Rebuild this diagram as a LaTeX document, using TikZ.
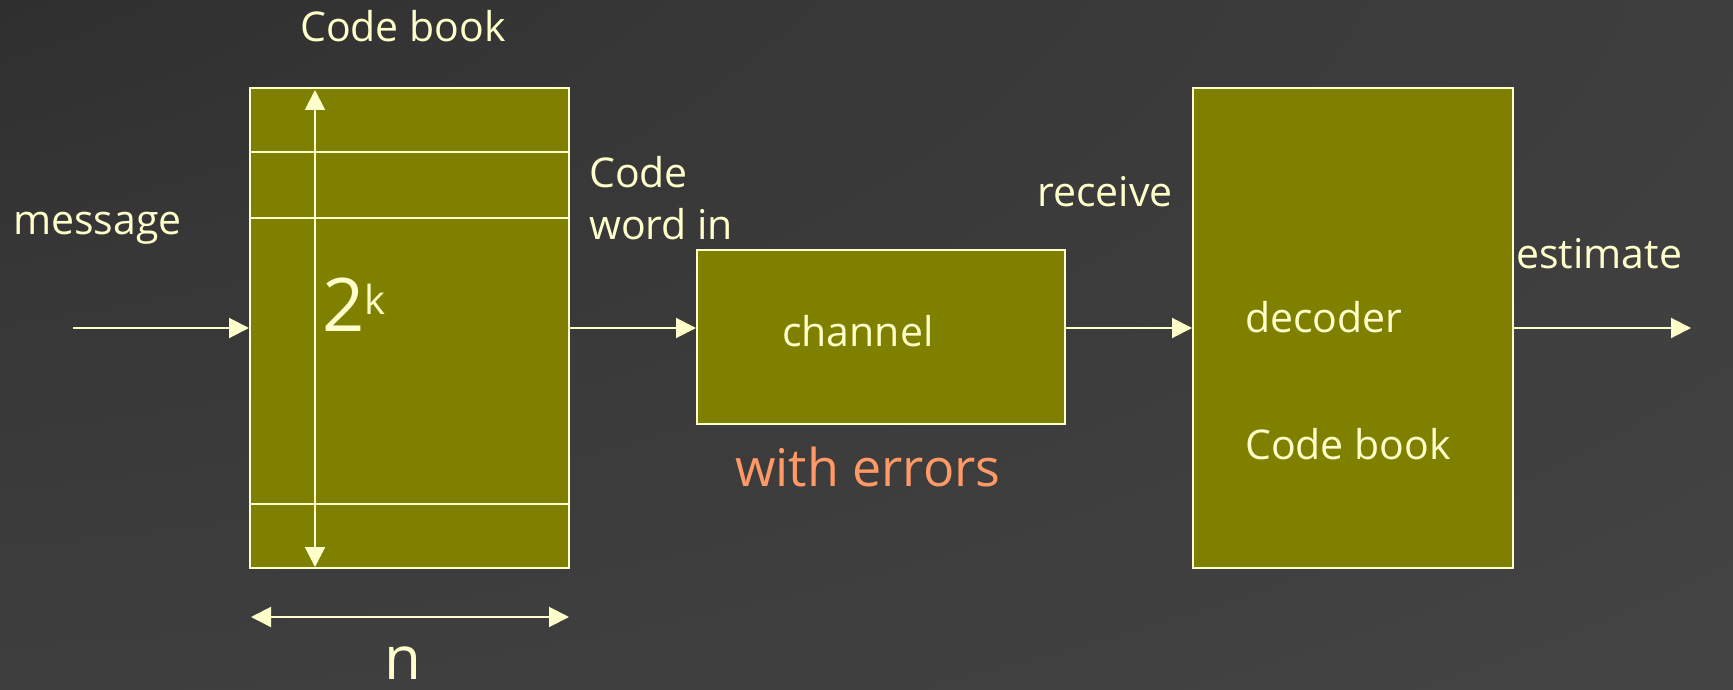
\documentclass[tikz,border=0pt]{standalone}
\usepackage{fontspec}
\setmainfont{Open Sans}
\usepackage{xcolor}
\usepackage{tikz}
\usetikzlibrary{arrows.meta,positioning}
\definecolor{boxolive}{RGB}{128,128,0}
\definecolor{cream}{RGB}{255,255,204}
\definecolor{errorange}{RGB}{255,153,102}
\definecolor{bgdark}{RGB}{30,30,30}
\definecolor{bglight}{RGB}{74,74,74}
\pgfdeclareradialshading{bgshade}{\pgfpoint{-50bp}{50bp}}{color(0bp)=(bgdark); color(35bp)=(bgdark!45!bglight); color(90bp)=(bglight); color(160bp)=(bglight)}
\tikzset{
  block/.style={draw=cream, fill=boxolive, line width=2pt, inner sep=0pt},
  flow/.style={draw=cream, line width=2pt, -{Triangle[length=20pt,width=20pt]}},
  span/.style={draw=cream, line width=2pt, {Triangle[length=20pt,width=20pt]}-{Triangle[length=20pt,width=20pt]}},
  lbl/.style={text=cream, inner sep=0pt, font=\fontsize{41}{51}\selectfont}
}

\begin{document}
\begin{tikzpicture}[x=1pt,y=1pt,yscale=-1,xscale=1]
%background
\shade[shading=bgshade] (0,0) rectangle (1733,690);
\useasboundingbox (0,0) rectangle (1733,690);

%Blocks
\node[block, minimum width=319pt, minimum height=480pt] (codebook) at (409.5,328) {};
\node[block, minimum width=368pt, minimum height=174pt] (channel) at (881,337) {};
\node[block, minimum width=320pt, minimum height=480pt] (decoder) at (1353,328) {};

%rows of the code book
\foreach \r in {152.5,218,504}
  \draw[cream, line width=2pt] (codebook.west |- 0,\r) -- (codebook.east |- 0,\r);

%size arrows
\coordinate (ktop) at (315,90);
\coordinate (kbot) at (315,567);
\draw[span] (kbot) -- (ktop);
\coordinate (nleft) at (251,617);
\coordinate (nright) at (569,617);
\draw[span] (nleft) -- (nright);

%signal path
\coordinate (msgin) at (73,328);
\coordinate (estout) at (1691,328);
\draw[flow] (msgin) -- (codebook.west);
\draw[flow] (codebook.east) -- (codebook.east -| channel.west);
\draw[flow] (channel.east |- codebook.east) -- (decoder.west);
\draw[flow] (decoder.east) -- (estout);

% Text Node
\node[lbl, anchor=base west] (booktitle) at (300,42) {Code book};
% Text Node
\node[lbl, anchor=base west] (message) at (13,234) {message};
% Text Node
\node[lbl, anchor=base west] (rows) at (322,331) {{\fontsize{74}{80}\selectfont 2}\raisebox{17pt}{\fontsize{40}{44}\selectfont k}};
% Text Node
\node[lbl, anchor=base, font=\fontsize{60}{66}\selectfont] (width) at (403,679) {n};
% Text Node
\node[lbl, anchor=base west] (codeword) at (589,188) {Code};
\node[lbl, anchor=base west] (codeword2) at (589,239) {word in};
% Text Node
\node[lbl, anchor=base west] (chantext) at (782,346) {channel};
% Text Node
\node[lbl, anchor=base west, text=errorange, font=\fontsize{52}{60}\selectfont] (errors) at (735,486) {with errors};
% Text Node
\node[lbl, anchor=base west] (receive) at (1037,206) {receive};
% Text Node
\node[lbl, anchor=base west] (dectext) at (1245,332) {decoder};
% Text Node
\node[lbl, anchor=base west] (decbook) at (1245,459) {Code book};
% Text Node
\node[lbl, anchor=base west] (estimate) at (1516,268) {estimate};

\end{tikzpicture}
\end{document}
